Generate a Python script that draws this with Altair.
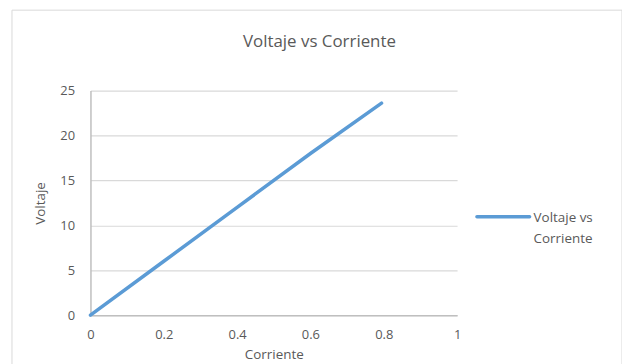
import altair as alt
import pandas as pd

corriente = [0.0, 0.2, 0.4, 0.6, 0.794]
voltaje = [0.0, 6.0, 12.0, 18.0, 23.6]
serie = "Voltaje vs Corriente"
legend_lines = ["Voltaje vs", "Corriente"]
x_ticks = [0, 0.2, 0.4, 0.6, 0.8, 1]
y_ticks = [0, 5, 10, 15, 20, 25]

df = pd.DataFrame({"Corriente": corriente, "Voltaje": voltaje, "Serie": [serie] * len(corriente)})

FONT = "Open Sans"
TXT = "#595959"
BLUE = "#5B9BD5"

line = alt.Chart(df).mark_line(strokeWidth=3.5, strokeCap="round").encode(
    x=alt.X("Corriente:Q",
            scale=alt.Scale(domain=[0, 1], nice=False),
            axis=alt.Axis(values=x_ticks, title="Corriente", grid=False,
                          ticks=False, tickSize=0, labelPadding=13,
                          labelFlush=False,
                          domainColor="#bfbfbf", domainWidth=1.5,
                          titleY=40, titleBaseline="middle",
                          format="~g")),
    y=alt.Y("Voltaje:Q",
            scale=alt.Scale(domain=[0, 25], nice=False),
            axis=alt.Axis(values=y_ticks, title="Voltaje", grid=True,
                          gridColor="#d9d9d9", gridWidth=1.2,
                          ticks=False, tickSize=0, labelPadding=16,
                          labelFlush=False,
                          domainColor="#bfbfbf", domainWidth=1.5,
                          titleX=-50, titleY=113, titleAlign="center",
                          titleBaseline="middle")),
    color=alt.Color("Serie:N", scale=alt.Scale(range=[BLUE]), legend=None),
)

leg_df = pd.DataFrame({"a": [0]})
legend_rule = alt.Chart(leg_df).mark_rule(color=BLUE, strokeWidth=3.5, strokeCap="round").encode(
    x=alt.value(389), x2=alt.value(442), y=alt.value(127)
)
legend_text = alt.Chart(leg_df).mark_text(
    text=legend_lines, align="left", baseline="middle", font=FONT, fontSize=13.5,
    color=TXT, lineHeight=21
).encode(x=alt.value(446), y=alt.value(128))

border = alt.Chart(leg_df).mark_rect(
    fill=None, stroke="#d9d9d9", strokeWidth=1
).encode(x=alt.value(-79), x2=alt.value(535), y=alt.value(-81), y2=alt.value(300))

chart = alt.layer(border, line, legend_rule, legend_text).properties(
    width=369, height=226,
    title=alt.TitleParams("Voltaje vs Corriente", dx=46, offset=-42,
                          font=FONT, fontSize=17, fontWeight="normal",
                          color=TXT, anchor="middle"),
    autosize=alt.AutoSizeParams(type="none"),
    padding={"left": 83, "top": 82, "right": 166, "bottom": 48},
).configure_view(stroke=None).configure_axis(
    labelFont=FONT, labelFontSize=13, labelColor=TXT,
    titleFont=FONT, titleFontSize=13.5, titleColor=TXT, titleFontWeight="normal",
)

chart.save("out.html", embed_options={"renderer": "svg", "actions": False})
